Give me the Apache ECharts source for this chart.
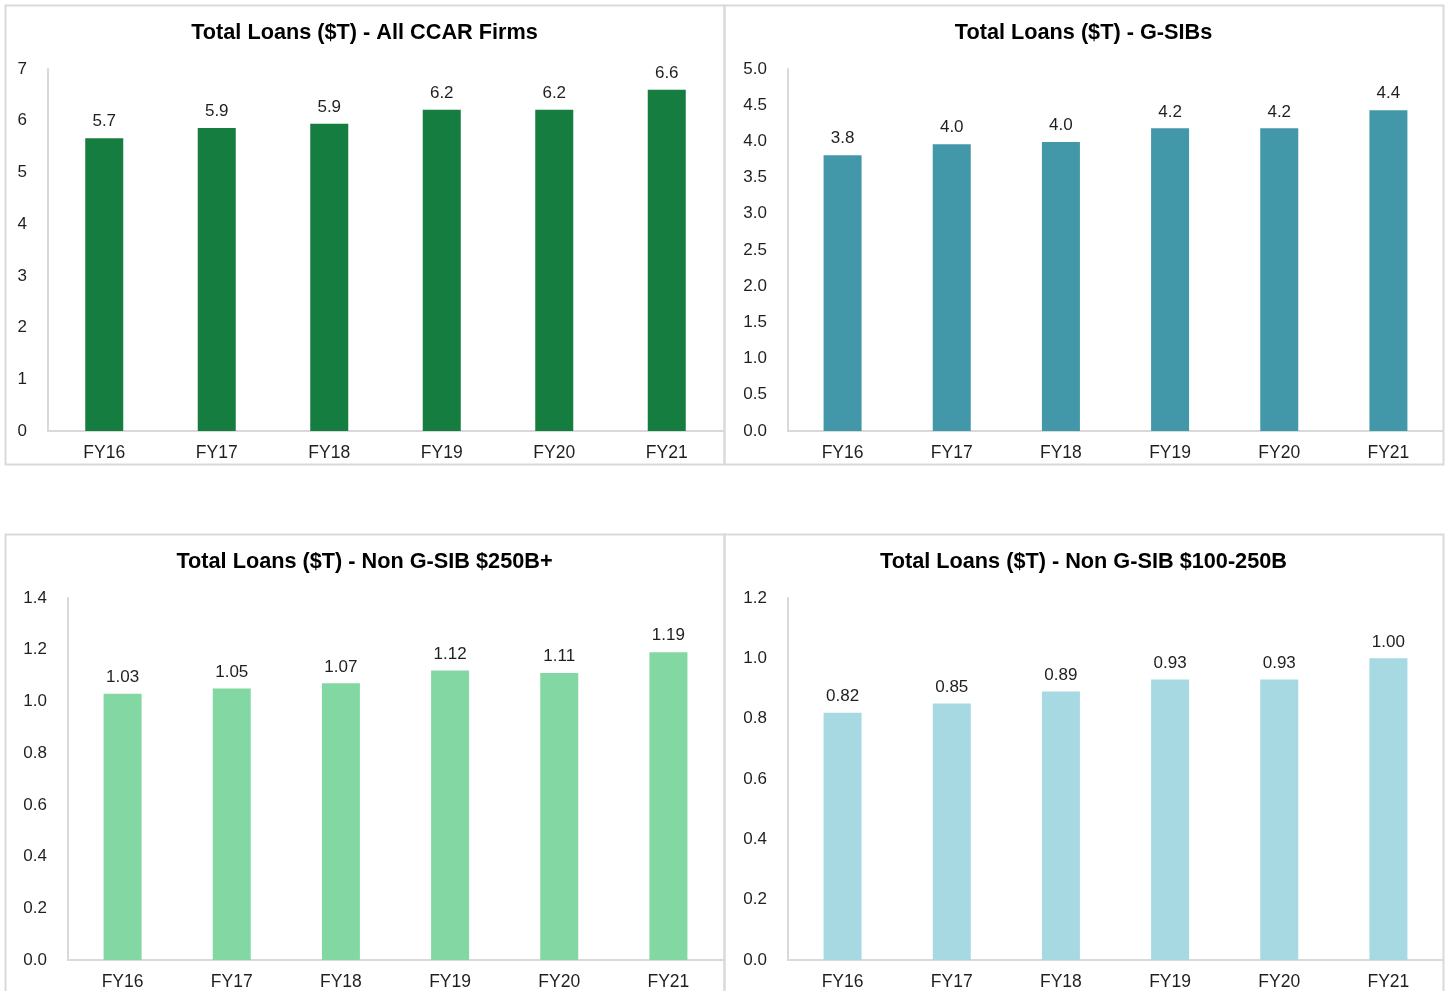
<!DOCTYPE html>
<html>
<head>
<meta charset="utf-8">
<title>Total Loans ($T)</title>
<script src="https://cdn.jsdelivr.net/npm/echarts@6/dist/echarts.min.js"></script>
<style>
  html, body { margin: 0; padding: 0; background: #ffffff; }
  #chart { width: 1447px; height: 991px; }
</style>
</head>
<body>
<div id="chart"></div>
<script>
// Fiscal years shown on every panel
const years = ['FY16', 'FY17', 'FY18', 'FY19', 'FY20', 'FY21'];

// Total loans in trillions of dollars, by firm group
const allCcarLoans = [5.66, 5.86, 5.94, 6.21, 6.21, 6.60];
const gsibLoans = [3.81, 3.96, 3.99, 4.18, 4.18, 4.43];
const nonGsib250Loans = [1.03, 1.05, 1.07, 1.12, 1.11, 1.19];
const nonGsib100Loans = [0.82, 0.85, 0.89, 0.93, 0.93, 1.00];

// Panel titles
const titles = [
  'Total Loans ($T) - All CCAR Firms',
  'Total Loans ($T) - G-SIBs',
  'Total Loans ($T) - Non G-SIB $250B+',
  'Total Loans ($T) - Non G-SIB $100-250B'
];

// Value-axis ranges: [min, max, interval, decimals for tick labels]
const axisRanges = [
  [0, 7, 1, 0],
  [0, 5, 0.5, 1],
  [0, 1.4, 0.2, 1],
  [0, 1.2, 0.2, 1]
];
// Decimals for the value labels above the bars
const labelDecimals = [1, 1, 2, 2];

const seriesData = [allCcarLoans, gsibLoans, nonGsib250Loans, nonGsib100Loans];
const colors = ['#157D3F', '#4298A8', '#83D7A3', '#A6D9E2'];

const FONT = '"Liberation Sans", Arial, sans-serif';
const TEXT = '#1F1F1F';
const LINE = '#D9D9D9';

// Panel frames and plot areas
const panels = [
  { x: 5,   y: 5,   w: 719, h: 459, grid: { left: 48,  top: 69,  width: 675, height: 362 } },
  { x: 724, y: 5,   w: 719, h: 459, grid: { left: 788, top: 69,  width: 655, height: 362 } },
  { x: 5,   y: 534, w: 719, h: 470, grid: { left: 68,  top: 598, width: 655, height: 362 } },
  { x: 724, y: 534, w: 719, h: 470, grid: { left: 788, top: 598, width: 655, height: 362 } }
];

const chart = echarts.init(document.getElementById('chart'), null, { renderer: 'canvas' });

const option = {
  backgroundColor: '#ffffff',
  animation: false,
  textStyle: { fontFamily: FONT },
  graphic: panels.map(p => ({
    type: 'rect',
    silent: true,
    z: -10,
    shape: { x: p.x + 0.5, y: p.y + 0.5, width: p.w, height: p.h },
    style: { fill: 'none', stroke: LINE, lineWidth: 2 }
  })),
  title: panels.map((p, i) => ({
    text: titles[i],
    left: p.x + p.w / 2,
    textAlign: 'center',
    top: p.y + 17,
    padding: 0,
    textStyle: { fontFamily: FONT, fontSize: 21.7, fontWeight: 'bold', color: '#000000' }
  })),
  grid: panels.map(p => Object.assign({ containLabel: false }, p.grid)),
  xAxis: panels.map((p, i) => ({
    type: 'category',
    gridIndex: i,
    data: years,
    axisLine: { show: true, lineStyle: { color: LINE, width: 2 } },
    axisTick: { show: false },
    axisLabel: { color: TEXT, fontSize: 17.5, fontFamily: FONT, margin: 13 }
  })),
  yAxis: panels.map((p, i) => ({
    type: 'value',
    gridIndex: i,
    min: axisRanges[i][0],
    max: axisRanges[i][1],
    interval: axisRanges[i][2],
    axisLine: { show: true, lineStyle: { color: LINE, width: 2 } },
    axisTick: { show: false },
    splitLine: { show: false },
    axisLabel: {
      color: TEXT, fontSize: 17, fontFamily: FONT, margin: 21,
      padding: [4, 0, 0, 0],
      formatter: v => v.toFixed(axisRanges[i][3])
    }
  })),
  series: seriesData.map((d, i) => ({
    type: 'bar',
    xAxisIndex: i,
    yAxisIndex: i,
    data: d,
    barWidth: 38,
    itemStyle: { color: colors[i] },
    label: {
      show: true,
      position: 'top',
      distance: 8,
      color: TEXT,
      fontSize: 17,
      fontFamily: FONT,
      formatter: p => p.value.toFixed(labelDecimals[i])
    }
  }))
};

chart.setOption(option);
</script>
</body>
</html>
